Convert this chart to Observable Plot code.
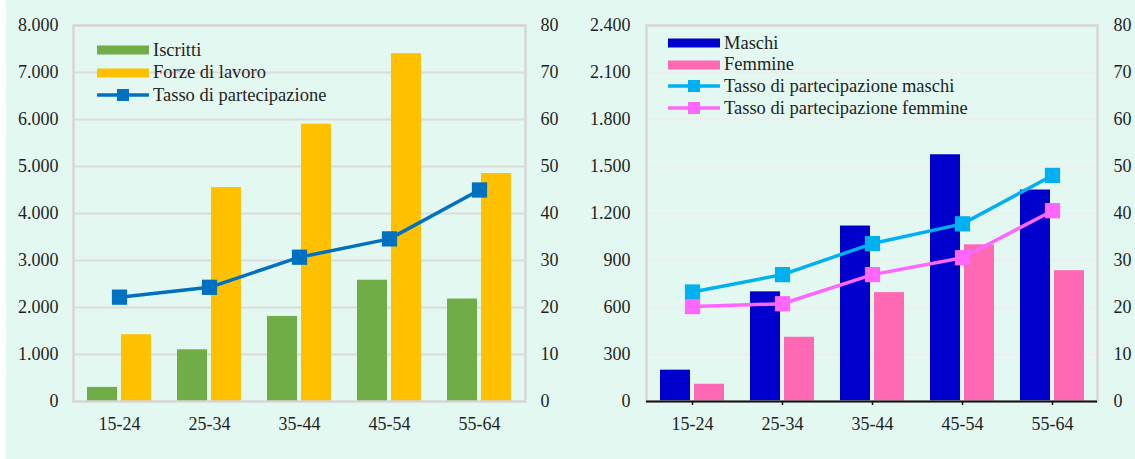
<!DOCTYPE html>
<html>
<head>
<meta charset="utf-8">
<script src="https://cdn.jsdelivr.net/npm/d3@7"></script>
<script src="https://cdn.jsdelivr.net/npm/@observablehq/plot@0.6"></script>
<style>
  html, body { margin: 0; padding: 0; background: #fff; }
  #chart { position: relative; width: 1135px; height: 459px; background: #fff; overflow: hidden;
           font-family: "Liberation Serif", "Times New Roman", serif; color: #1f1f1f; }
  #bg { position: absolute; left: 6px; top: 0; width: 1129px; height: 459px; background: #e3f8f1; }
  .layer { position: absolute; top: 0; }
  .layer svg { display: block; }
  .legend { position: absolute; font-size: 18.5px; line-height: 1; }
  .legend .row { position: absolute; left: 0; display: flex; align-items: center; white-space: nowrap; }
  .legend svg { display: block; margin-right: 4px; }
</style>
</head>
<body>
<div id="chart"><div id="bg"></div></div>
<script>
// Age groups shared by both panels
const ageGroups = ["15-24", "25-34", "35-44", "45-54", "55-64"];

// Left panel: enrolled, labour force (thousands) and participation rate (%)
const iscritti = [300, 1100, 1810, 2580, 2180];
const forzeLavoro = [1420, 4550, 5900, 7400, 4850];
const tassoPartecipazione = [22.2, 24.3, 30.7, 34.6, 45.0];

// Right panel: enrolled by sex and participation rate by sex (%)
const maschi = [200, 700, 1120, 1575, 1350];
const femmine = [110, 410, 695, 1000, 835];
const tassoMaschi = [23.3, 27.0, 33.6, 37.8, 48.1];
const tassoFemmine = [20.2, 20.8, 27.0, 30.6, 40.6];

// Axis tick values
const leftTicks = [0, 1000, 2000, 3000, 4000, 5000, 6000, 7000, 8000];
const rightPanelTicks = [0, 300, 600, 900, 1200, 1500, 1800, 2100, 2400];
const rateTicks = [0, 10, 20, 30, 40, 50, 60, 70, 80];

// Italian number format: 8.000
const it = d3.formatLocale({decimal: ",", thousands: ".", grouping: [3], currency: ["€", ""]});
const fmtThousands = it.format(",d");

const fontStyle = {background: "transparent", fontFamily: "'Liberation Serif', 'Times New Roman', serif", fontSize: "18px", color: "#1f1f1f", overflow: "visible"};

function addLayer(svg, left) {
  const div = document.createElement("div");
  div.className = "layer";
  div.style.left = left + "px";
  div.appendChild(svg);
  document.getElementById("chart").appendChild(div);
}

function buildPanel(cfg) {
  const barData = ageGroups.flatMap((g, i) => cfg.bars.map(s => ({group: g, series: s.name, value: s.values[i]})));
  const margins = {width: cfg.width, height: 459, marginLeft: cfg.marginLeft, marginRight: cfg.marginRight, marginTop: 25, marginBottom: 58};

  // Bottom layer: gridlines, grouped bars, left axis
  const bars = Plot.plot({
    ...margins,
    style: fontStyle,
    fx: {domain: ageGroups, padding: 0, axis: null},
    x: {domain: cfg.bars.map(s => s.name), paddingInner: 0.114, paddingOuter: 0.348, axis: null},
    y: {domain: [0, cfg.leftTicks[cfg.leftTicks.length - 1]], axis: null},
    color: {domain: cfg.bars.map(s => s.name), range: cfg.bars.map(s => s.color)},
    marks: [
      Plot.ruleY(cfg.leftTicks.slice(1), {stroke: cfg.gridColor, strokeWidth: 2}),
      Plot.barY(barData, {fx: "group", x: "series", y: "value", fill: "series"}),
      Plot.axisY(cfg.leftTicks, {anchor: "left", label: null, tickSize: 0, tickPadding: cfg.leftPad, tickFormat: fmtThousands})
    ]
  });
  addLayer(bars, cfg.left);

  // Top layer: frame, category axis, rate lines with square markers, right axis
  const lineMarks = cfg.lines.flatMap(s => {
    const pts = ageGroups.map((g, i) => ({group: g, rate: s.values[i]}));
    return [
      Plot.lineY(pts, {x: "group", y: "rate", stroke: s.color, strokeWidth: 3.5}),
      Plot.dot(pts, {x: "group", y: "rate", symbol: "square", r: 8.6, fill: s.color, stroke: "none"})
    ];
  });
  const lines = Plot.plot({
    ...margins,
    style: fontStyle,
    x: {type: "point", domain: ageGroups, padding: 0.5, axis: null},
    y: {domain: [0, 80], axis: null},
    marks: [
      Plot.frame({stroke: "#d6d6d6", strokeWidth: 2.5}),
      cfg.blackBase ? Plot.ruleY([0], {stroke: "#111", strokeWidth: 2}) : null,
      Plot.axisX(ageGroups, {anchor: "bottom", label: null, tickSize: cfg.blackBase ? 4 : 0, stroke: "#111", strokeWidth: 1.5, tickPadding: cfg.blackBase ? 12 : 16}),
      ...lineMarks,
      Plot.axisY(rateTicks, {anchor: "right", label: null, tickSize: 0, tickPadding: cfg.rightPad})
    ]
  });
  addLayer(lines, cfg.left);

  // Legend inside the plot area
  const legend = document.createElement("div");
  legend.className = "legend";
  legend.style.left = cfg.legendX + "px";
  legend.style.top = "0px";
  const entries = [
    ...cfg.bars.map(s => ({name: s.name, color: s.color, kind: "bar"})),
    ...cfg.lines.map(s => ({name: s.name, color: s.color, kind: "line"}))
  ];
  entries.forEach((e, i) => {
    const row = document.createElement("div");
    row.className = "row";
    row.style.top = (cfg.legendY + i * cfg.legendStep - 11) + "px";
    row.style.height = "22px";
    const sw = e.kind === "bar"
      ? `<svg width="52" height="22"><rect x="0" y="6.5" width="52" height="9" fill="${e.color}"/></svg>`
      : `<svg width="52" height="22"><line x1="1" x2="51" y1="11" y2="11" stroke="${e.color}" stroke-width="3.5" stroke-linecap="round"/><rect x="20" y="5" width="12" height="12" fill="${e.color}"/></svg>`;
    row.innerHTML = sw + `<span>${e.name}</span>`;
    legend.appendChild(row);
  });
  document.getElementById("chart").appendChild(legend);
}

buildPanel({
  left: 0, width: 565, marginLeft: 73, marginRight: 40,
  leftTicks: leftTicks, leftPad: 16, rightPad: 15,
  gridColor: "#dcdcdc", blackBase: false,
  bars: [
    {name: "Iscritti", values: iscritti, color: "#70ad47"},
    {name: "Forze di lavoro", values: forzeLavoro, color: "#ffc000"}
  ],
  lines: [
    {name: "Tasso di partecipazione", values: tassoPartecipazione, color: "#0070c0"}
  ],
  legendX: 97, legendY: 50, legendStep: 22.5
});

buildPanel({
  left: 565, width: 570, marginLeft: 81, marginRight: 38,
  leftTicks: rightPanelTicks, leftPad: 17, rightPad: 16,
  gridColor: "#eeeeee", blackBase: true,
  bars: [
    {name: "Maschi", values: maschi, color: "#0000cc"},
    {name: "Femmine", values: femmine, color: "#ff69b4"}
  ],
  lines: [
    {name: "Tasso di partecipazione maschi", values: tassoMaschi, color: "#00b0f0"},
    {name: "Tasso di partecipazione femmine", values: tassoFemmine, color: "#ff66ff"}
  ],
  legendX: 668, legendY: 43, legendStep: 21.7
});
</script>
</body>
</html>
